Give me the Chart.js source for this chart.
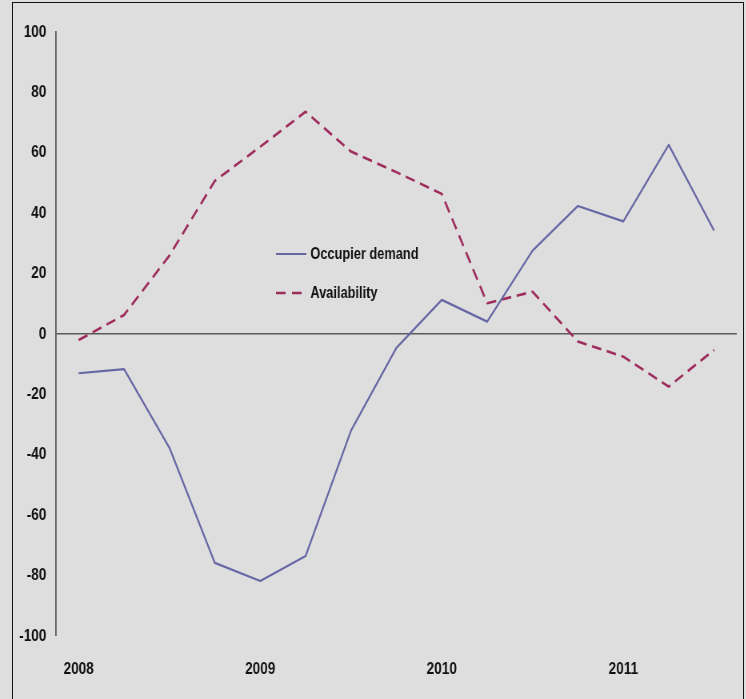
<!DOCTYPE html>
<html>
<head>
<meta charset="utf-8">
<script src="https://cdn.jsdelivr.net/npm/chart.js@4/dist/chart.umd.min.js"></script>
<style>
  html, body { margin: 0; padding: 0; background: #dedede; }
  #wrap { position: relative; width: 746px; height: 699px; overflow: hidden; }
  /* the chart is laid out wider and then condensed horizontally */
  #c { display: block; transform: scaleX(0.8); transform-origin: 0 0; }
  #frame { position: absolute; left: 12px; top: 2px; width: 730px; height: 720px;
           border: 1.5px solid #111; pointer-events: none; }
</style>
</head>
<body>
<div id="wrap">
  <canvas id="c" width="933" height="699"></canvas>
  <div id="frame"></div>
</div>
<script>
// Quarterly survey balances, Q1 2008 – Q3 2011
const quarters = ['2008','Q2','Q3','Q4','2009','Q2','Q3','Q4','2010','Q2','Q3','Q4','2011','Q2','Q3'];
const occupierDemand = [-13, -11.6, -37.7, -75.8, -81.8, -73.5, -32, -4.6, 11.3, 4.1, 27.6, 42.4, 37.3, 62.6, 34.2];
const availability   = [-2, 6.3, 26, 50.7, 62, 73.6, 60.4, 53.6, 46.4, 10.2, 14, -2.5, -7.5, -17.4, -5.3];
const yTicks = [-100, -80, -60, -40, -20, 0, 20, 40, 60, 80, 100];

const FONT = '"Liberation Sans", Arial, sans-serif';

// Legend drawn inside the plot area
const insideLegend = {
  id: 'insideLegend',
  afterDatasetsDraw(chart) {
    const ctx = chart.ctx;
    const items = [{ x: 345, y: 254 }, { x: 345, y: 293 }];
    chart.data.datasets.forEach((ds, i) => {
      const p = items[i];
      ctx.save();
      ctx.strokeStyle = ds.borderColor;
      ctx.lineWidth = ds.borderWidth;
      ctx.setLineDash(i === 1 ? [12, 8] : []);
      ctx.beginPath();
      ctx.moveTo(p.x, p.y);
      ctx.lineTo(p.x + 38, p.y);
      ctx.stroke();
      ctx.setLineDash([]);
      ctx.fillStyle = '#111';
      ctx.font = 'bold 16px ' + FONT;
      ctx.textBaseline = 'middle';
      ctx.textAlign = 'left';
      ctx.fillText(ds.label, p.x + 43, p.y + 1);
      ctx.restore();
    });
  }
};

new Chart(document.getElementById('c'), {
  type: 'line',
  data: {
    labels: quarters,
    datasets: [
      {
        label: 'Occupier demand',
        data: occupierDemand,
        borderColor: '#6666a4',
        borderWidth: 2.2,
        pointRadius: 0,
        tension: 0,
        borderJoinStyle: 'round',
        fill: false
      },
      {
        label: 'Availability',
        data: availability,
        borderColor: '#9e2d5e',
        borderWidth: 2.6,
        borderDash: [12, 7],
        pointRadius: 0,
        tension: 0,
        borderJoinStyle: 'round',
        fill: false
      }
    ]
  },
  options: {
    responsive: false,
    animation: false,
    layout: { padding: { left: 0, right: 12, top: 32, bottom: 0 } },
    plugins: { legend: { display: false }, tooltip: { enabled: false } },
    scales: {
      x: {
        type: 'category',
        offset: true,
        grid: { display: false, drawTicks: false },
        border: { display: false },
        ticks: {
          autoSkip: false,
          maxRotation: 0,
          padding: 23,
          color: '#111',
          font: { family: FONT, size: 17, weight: 'bold' },
          callback: (v, i) => (i % 4 === 0 ? quarters[i] : '')
        },
        afterFit: s => { s.height = 63; }
      },
      y: {
        min: -100,
        max: 100,
        afterBuildTicks: s => { s.ticks = yTicks.map(v => ({ value: v })); },
        grid: {
          drawTicks: false,
          color: c => (c.tick && c.tick.value === 0 ? '#5a5a5a' : 'rgba(0,0,0,0)'),
          lineWidth: c => (c.tick && c.tick.value === 0 ? 1.5 : 0)
        },
        border: { display: true, color: '#5a5a5a', width: 1.8 },
        ticks: {
          padding: 12,
          color: '#111',
          font: { family: FONT, size: 17, weight: 'bold' }
        },
        afterFit: s => { s.width = 70; }
      }
    }
  },
  plugins: [insideLegend]
});
</script>
</body>
</html>
